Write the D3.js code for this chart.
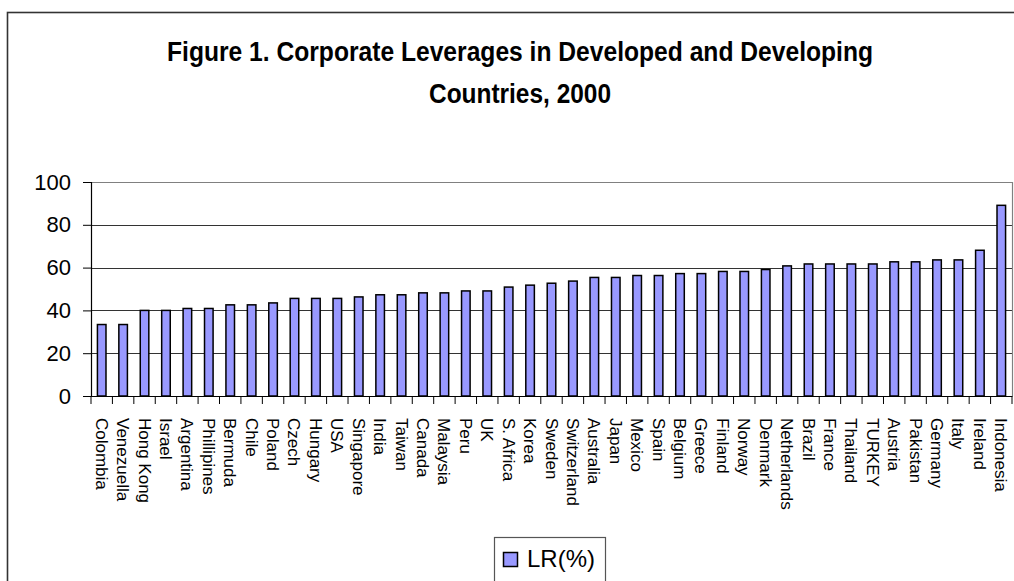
<!DOCTYPE html>
<html>
<head>
<meta charset="utf-8">
<script src="https://cdn.jsdelivr.net/npm/d3@7/dist/d3.min.js"></script>
<style>
  html, body { margin: 0; padding: 0; background: #fff; }
  svg { display: block; }
</style>
</head>
<body>
<svg id="chart" width="1014" height="581"></svg>
<script>
const titleLines = ["Figure 1. Corporate Leverages in Developed and Developing", "Countries, 2000"];
const countries = ["Colombia","Venezuella","Hong Kong","Israel","Argentina","Phillipines","Bermuda","Chile","Poland","Czech","Hungary","USA","Singapore","India","Taiwan","Canada","Malaysia","Peru","UK","S. Africa","Korea","Sweden","Switzerland","Australia","Japan","Mexico","Spain","Belgium","Greece","Finland","Norway","Denmark","Netherlands","Brazil","France","Thailand","TURKEY","Austria","Pakistan","Germany","Italy","Ireland","Indonesia"];
const lrValues = [33.4,33.4,40.0,40.0,40.9,40.9,42.6,42.6,43.5,45.6,45.6,45.6,46.3,47.3,47.3,48.2,48.2,49.1,49.1,50.9,51.8,52.7,53.7,55.4,55.4,56.3,56.3,57.2,57.2,58.2,58.2,59.1,60.8,61.7,61.7,61.7,61.7,62.7,62.7,63.6,63.6,68.1,89.1];
const yTicks = [0,20,40,60,80,100];
const seriesName = "LR(%)";

const svg = d3.select("#chart");

// outer chart border
svg.append("rect").attr("x", 7.5).attr("y", 12.5).attr("width", 1020).attr("height", 600)
  .attr("fill", "#fff").attr("stroke", "#333").attr("stroke-width", 1.6);

// title
const titleY = [61, 103];
const titleW = [706, 182];
svg.selectAll("text.title").data(titleLines).enter().append("text")
  .attr("class", "title")
  .attr("x", 520).attr("y", (d, i) => titleY[i])
  .attr("text-anchor", "middle")
  .attr("font-family", "'Liberation Sans Narrow', 'Arial Narrow', 'Liberation Sans', Arial, sans-serif")
  .attr("font-weight", "bold").attr("font-size", 28)
  .attr("textLength", (d, i) => titleW[i]).attr("lengthAdjust", "spacingAndGlyphs")
  .attr("fill", "#000").text(d => d);

const plot = { left: 91, right: 1012, top: 182, bottom: 396 };
const x = d3.scaleBand().domain(countries).range([plot.left, plot.right]).paddingInner(0).paddingOuter(0);
const y = d3.scaleLinear().domain([0, 100]).range([plot.bottom, plot.top]);

// gridlines
svg.append("g").selectAll("line").data(yTicks.filter(t => t > 0)).enter().append("line")
  .attr("x1", plot.left).attr("x2", plot.right)
  .attr("y1", d => Math.round(y(d)) + 0.5).attr("y2", d => Math.round(y(d)) + 0.5)
  .attr("stroke", d => d === 100 ? "#808080" : "#333").attr("stroke-width", 1);

// plot right border
svg.append("line").attr("x1", plot.right + 0.5).attr("x2", plot.right + 0.5)
  .attr("y1", plot.top).attr("y2", plot.bottom).attr("stroke", "#808080").attr("stroke-width", 1.2);

// bars
const barW = x.bandwidth() * 0.4;
svg.append("g").selectAll("rect").data(countries).enter().append("rect")
  .attr("x", d => x(d) + (x.bandwidth() - barW) / 2)
  .attr("y", (d, i) => y(lrValues[i]))
  .attr("width", barW)
  .attr("height", (d, i) => y(0) - y(lrValues[i]))
  .attr("fill", "#9999FF").attr("stroke", "#000").attr("stroke-width", 1.5);

// y axis
const yAxis = d3.axisLeft(y).tickValues(yTicks).tickSize(8).tickPadding(12);
const gy = svg.append("g").attr("transform", `translate(${plot.left},0)`).call(yAxis);
gy.select(".domain").attr("stroke", "#000").attr("stroke-width", 1.2);
gy.selectAll(".tick line").attr("stroke", "#000");
gy.selectAll(".tick text").attr("font-family", "'Liberation Sans', Arial, sans-serif")
  .attr("font-size", 22).attr("fill", "#000");

// x axis
const xAxis = d3.axisBottom(x).tickSize(0).tickFormat("");
const gx = svg.append("g").attr("transform", `translate(0,${plot.bottom})`).call(xAxis);
gx.select(".domain").attr("stroke", "#000").attr("stroke-width", 1.2);
// boundary ticks
const bounds = countries.map(c => x(c)).concat([plot.right]);
svg.append("g").selectAll("line").data(bounds).enter().append("line")
  .attr("x1", d => d).attr("x2", d => d)
  .attr("y1", plot.bottom).attr("y2", plot.bottom + 8)
  .attr("stroke", "#000").attr("stroke-width", 1);

// x labels (rotated)
svg.append("g").selectAll("text").data(countries).enter().append("text")
  .attr("transform", d => `translate(${x(d) + x.bandwidth() / 2 - 6},418) rotate(90)`)
  .attr("font-family", "'Liberation Sans', Arial, sans-serif")
  .attr("font-size", 17).attr("fill", "#000")
  .attr("text-anchor", "start")
  .text(d => d);

// legend
const lg = svg.append("g");
lg.append("rect").attr("x", 494.5).attr("y", 537.5).attr("width", 111).attr("height", 60)
  .attr("fill", "#fff").attr("stroke", "#555").attr("stroke-width", 1.2);
lg.append("rect").attr("x", 503.5).attr("y", 552.5).attr("width", 14).attr("height", 14)
  .attr("fill", "#9999FF").attr("stroke", "#000").attr("stroke-width", 1.5);
lg.append("text").attr("x", 527).attr("y", 567)
  .attr("font-family", "'Liberation Sans', Arial, sans-serif")
  .attr("font-size", 24).attr("fill", "#000").text(seriesName);
</script>
</body>
</html>
